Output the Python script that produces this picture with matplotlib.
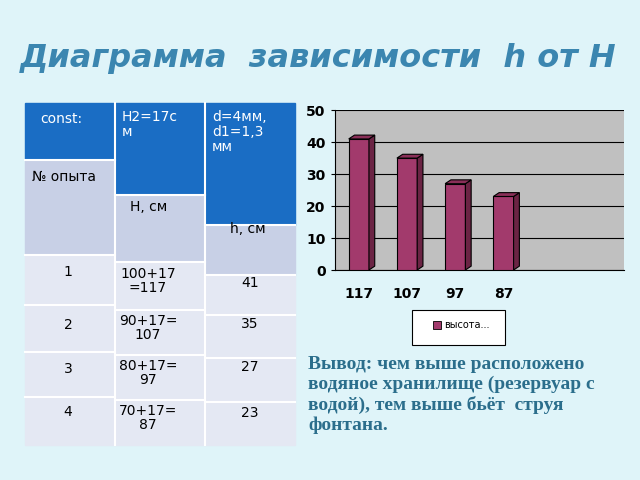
import matplotlib.pyplot as plt
from matplotlib.patches import Rectangle, Polygon

categories = ["117", "107", "97", "87", "", ""]
heights = [41, 35, 27, 23]
h_big = ["100+17\n=117", "90+17=\n107", "80+17=\n97", "70+17=\n87"]
h_small = ["41", "35", "27", "23"]

fig = plt.figure(figsize=(6.4, 4.8), dpi=100)
fig.patch.set_facecolor("#dff4f9")

# canvas in pixel coords
bg = fig.add_axes([0, 0, 1, 1])
bg.set_xlim(0, 640)
bg.set_ylim(480, 0)
bg.axis("off")

bg.text(318, 58, "Диаграмма  зависимости  h от H", ha="center", va="center",
        fontsize=23, fontweight="bold", style="italic", color="#3b86b0")

# table (staggered columns)
cols = [25, 115, 205, 295]
col_lines = [[160, 255, 305, 352, 397], [195, 262, 310, 355, 400], [225, 275, 315, 358, 402]]
for c in range(3):
    x0, x1 = cols[c], cols[c + 1]
    ls = col_lines[c]
    bg.add_patch(Rectangle((x0, 103), x1 - x0, ls[0] - 103, color="#1a6dc4"))
    bg.add_patch(Rectangle((x0, ls[0]), x1 - x0, ls[1] - ls[0], color="#c8d0e6"))
    bg.add_patch(Rectangle((x0, ls[1]), x1 - x0, 445 - ls[1], color="#e4e8f3"))
    for y in ls:
        bg.plot([x0, x1], [y, y], color="white", lw=1.5)
for x in cols[1:-1]:
    bg.plot([x, x], [103, 445], color="white", lw=1.5)
bg.text(40, 112, "const:", color="white", fontsize=10, va="top")
bg.text(122, 110, "H2=17с\nм", color="white", fontsize=10, va="top", linespacing=1.1)
bg.text(212, 110, "d=4мм,\nd1=1,3\nмм", color="white", fontsize=10, va="top", linespacing=1.1)
bg.text(32, 170, "№ опыта", color="black", fontsize=10, va="top")
bg.text(130, 200, "H, см", color="black", fontsize=10, va="top")
bg.text(230, 222, "h, см", color="black", fontsize=10, va="top")
y_num = [265, 318, 362, 405]
y_big = [267, 314, 359, 404]
y_small = [276, 317, 360, 406]
for i in range(4):
    bg.text(68, y_num[i], str(i + 1), ha="center", va="top", fontsize=10)
    bg.text(148, y_big[i], h_big[i], ha="center", va="top", fontsize=10, linespacing=1.0)
    bg.text(250, y_small[i], h_small[i], ha="center", va="top", fontsize=10)

bg.text(308, 395, "Вывод: чем выше расположено\nводяное хранилище (резервуар с\nводой), тем выше бьёт  струя\nфонтана.",
        ha="left", va="center", fontsize=14, fontweight="bold", family="Liberation Serif",
        color="#2b6e8c", linespacing=1.2)

# chart
ax = fig.add_axes([0.523, 0.4375, 0.452, 0.333])
ax.set_facecolor("#c0c0c0")
x = range(len(categories))
ax.set_xlim(-0.5, len(categories) - 0.5)
ax.set_ylim(0, 50)
ax.yaxis.grid(True, color="black", lw=0.8)
ax.set_axisbelow(True)
w = 0.42
dx, dy = 0.12, 1.2
for i, h in enumerate(heights):
    ax.bar(i, h, width=w, color="#a23a6c", edgecolor="black", lw=0.8, zorder=3)
    ax.add_patch(Polygon([(i + w / 2, 0), (i + w / 2 + dx, dy), (i + w / 2 + dx, h + dy), (i + w / 2, h)],
                         closed=True, fc="#6b2444", ec="black", lw=0.8, zorder=3))
    ax.add_patch(Polygon([(i - w / 2, h), (i - w / 2 + dx, h + dy), (i + w / 2 + dx, h + dy), (i + w / 2, h)],
                         closed=True, fc="#8a2f58", ec="black", lw=0.8, zorder=3))
ax.set_xticks(list(x))
ax.set_xticklabels(categories, fontsize=10, fontweight="bold")
ax.set_yticks(range(0, 51, 10))
ax.tick_params(axis="y", labelsize=10, length=3)
ax.tick_params(axis="x", length=0, pad=12)
for lbl in ax.get_yticklabels():
    lbl.set_fontweight("bold")
for s in ["top", "right"]:
    ax.spines[s].set_visible(False)

# legend box
bg.add_patch(Rectangle((412, 310), 93, 35, fc="white", ec="black", lw=0.8))
bg.add_patch(Rectangle((433, 321), 8, 8, fc="#a23a6c", ec="black", lw=0.6))
bg.text(444, 325, "высота...", fontsize=7, va="center")

fig.savefig("out.png", dpi=100, facecolor=fig.get_facecolor())
